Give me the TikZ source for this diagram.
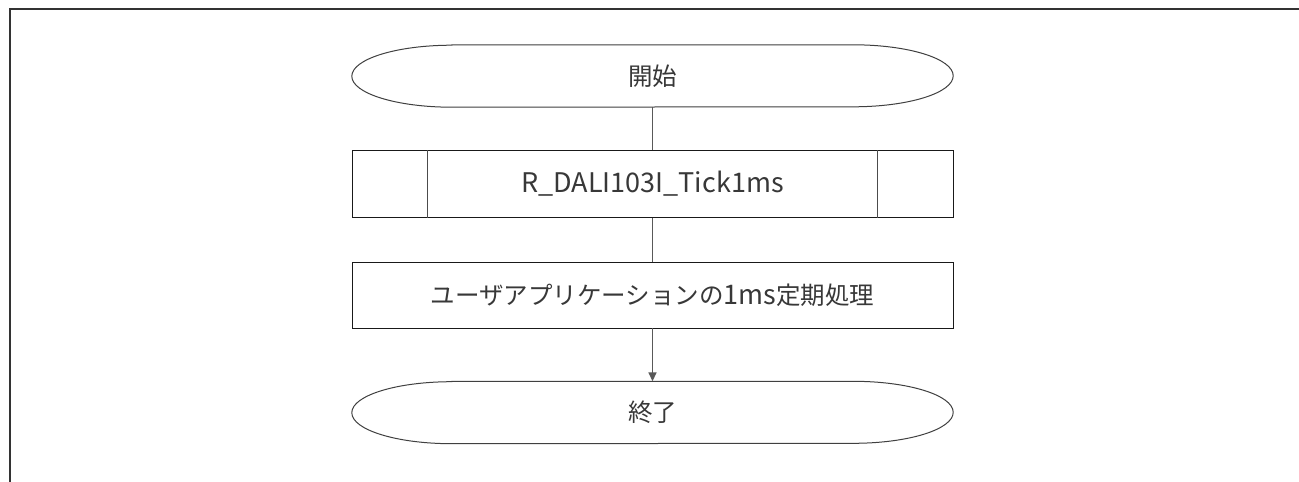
\documentclass[tikz,border=0pt]{standalone}
\usepackage{fontspec}
\setmainfont{Noto Sans CJK JP}
\usetikzlibrary{arrows.meta}
\newcommand{\latn}[1]{{\fontsize{27}{30}\selectfont #1}}
\begin{document}
\begin{tikzpicture}[x=1pt,y=-1pt,
  txt/.style={font=\fontsize{24.5}{28}\selectfont, text=black!78},
  term/.style={rectangle, draw=none, minimum width=601pt, minimum height=62pt, inner sep=0pt, txt},
  termline/.style={draw=black!75, line width=1pt},
  proc/.style={rectangle, draw=black!90, line width=0.9pt, minimum width=601pt, minimum height=67pt, inner sep=0pt, txt},
  conn/.style={draw=black!65, line width=1.6pt},
  frame/.style={draw=black!80, line width=2pt}
]
\useasboundingbox (0,0) rectangle (1299,482);
\fill[white] (0,0) rectangle (1299,482);
\draw[frame] (10,482) -- (10,9) -- (1299,9);
\node[term] (start) at (652.5,76) {開始};
\draw[termline] ([xshift=100pt]start.north west) -- ([xshift=-100pt]start.north east)
  arc[start angle=90, end angle=-90, x radius=100pt, y radius=31pt]
  -- ([xshift=100pt]start.south west)
  arc[start angle=-90, end angle=-270, x radius=100pt, y radius=31pt] -- cycle;
\node[proc] (sub) at (652.5,184) {\latn{R\_DALI103I\_Tick1ms}};
\draw[draw=black!70, line width=1pt] ([xshift=76pt]sub.north west) -- ([xshift=76pt]sub.south west);
\draw[draw=black!70, line width=1pt] ([xshift=-76pt]sub.north east) -- ([xshift=-76pt]sub.south east);
\node[proc, minimum height=66pt] (user) at (652.5,295) {ユーザアプリケーションの\latn{1ms}定期処理};
\node[term] (end) at (652.5,412.5) {終了};
\draw[termline] ([xshift=100pt]end.north west) -- ([xshift=-100pt]end.north east)
  arc[start angle=90, end angle=-90, x radius=100pt, y radius=31pt]
  -- ([xshift=100pt]end.south west)
  arc[start angle=-90, end angle=-270, x radius=100pt, y radius=31pt] -- cycle;
\draw[conn] (start) -- (sub);
\draw[conn] (sub) -- (user);
\draw[conn, -{Triangle[length=9pt,width=8pt]}] (user) -- (end);
\end{tikzpicture}
\end{document}
